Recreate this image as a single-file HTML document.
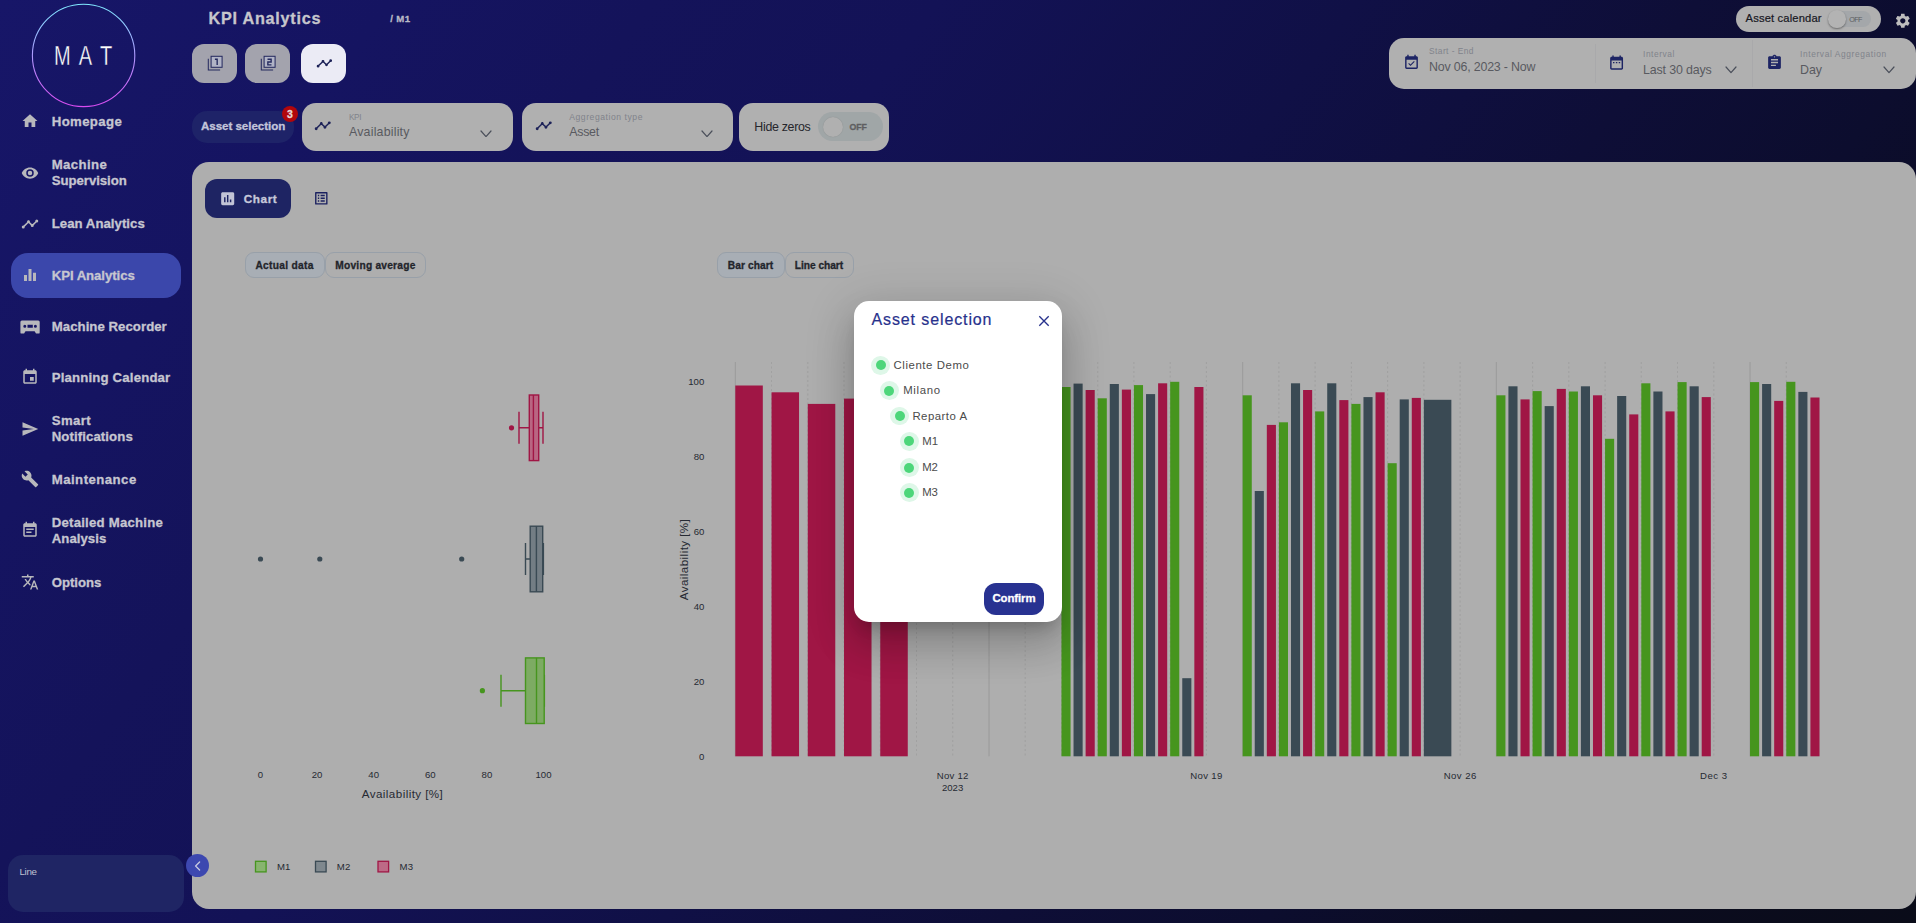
<!DOCTYPE html>
<html lang="en"><head><meta charset="utf-8"><title>KPI Analytics</title>
<style>
html,body{margin:0;padding:0}
body{width:1920px;height:923px;overflow:hidden;position:relative;background:#fff;font-family:"Liberation Sans",sans-serif}
#bg{position:absolute;left:0;top:0;width:1916px;height:923px;background:linear-gradient(127deg,rgb(23,22,104) 0%,rgb(21,20,97) 15%,rgb(20,19,90) 25%,rgb(19,18,86) 36%,rgb(16,16,70) 52%,rgb(14,14,55) 65%,rgb(12,13,46) 75%,rgb(11,12,33) 85%,rgb(10,12,25) 100%)}
.a{position:absolute;display:block}
.t{position:absolute;white-space:nowrap;font-family:"Liberation Sans",sans-serif}
.b{-webkit-text-stroke:.3px currentColor}
.med{-webkit-text-stroke:.2px currentColor}
.logo{-webkit-text-stroke:.35px #161565}
</style></head><body>
<div id="bg"></div>
<!-- sidebar -->
<svg class="a" style="left:28px;top:0px" width="112" height="112" viewBox="0 0 112 112"><defs><linearGradient id="lg" x1="0" y1="0" x2="0" y2="1"><stop offset="0" stop-color="#7fe9ff"/><stop offset="0.45" stop-color="#a9a2ff"/><stop offset="1" stop-color="#d94bf0"/></linearGradient></defs><circle cx="55.6" cy="55.4" r="51.2" fill="none" stroke="url(#lg)" stroke-width="1.1"/></svg>
<span class="t logo" style="font-size:27px;line-height:35px;color:#ffffff;top:39.31px;letter-spacing:2.462px;left:83.40px;transform:translateX(-50%) scaleX(0.74);margin-left:0.91px;">M A T</span>
<div class="a" style="left:11.00px;top:253.00px;width:169.75px;height:44.75px;background:#3b47ab;border-radius:17px;"></div>
<svg class="a" style="left:21.00px;top:112.00px" width="18" height="18" viewBox="0 0 24 24"><path fill="#b8b8bc" d="M10,20V14H14V20H19V12H22L12,3L2,12H5V20H10Z"/></svg>
<span class="t b" style="font-size:13.2px;line-height:17px;color:#c6c6d0;top:112.65px;font-weight:700;letter-spacing:0.368px;left:51.75px;">Homepage</span>
<svg class="a" style="left:20.60px;top:164.00px" width="18" height="18" viewBox="0 0 24 24"><path fill="#b8b8bc" d="M12,9A3,3 0 0,0 9,12A3,3 0 0,0 12,15A3,3 0 0,0 15,12A3,3 0 0,0 12,9M12,17A5,5 0 0,1 7,12A5,5 0 0,1 12,7A5,5 0 0,1 17,12A5,5 0 0,1 12,17M12,4.5C7,4.5 2.73,7.61 1,12C2.73,16.39 7,19.5 12,19.5C17,19.5 21.27,16.39 23,12C21.27,7.61 17,4.5 12,4.5Z"/></svg>
<span class="t b" style="font-size:13.2px;line-height:17px;color:#c6c6d0;top:156.15px;font-weight:700;letter-spacing:0.372px;left:51.75px;">Machine</span>
<span class="t b" style="font-size:13.2px;line-height:17px;color:#c6c6d0;top:172.15px;font-weight:700;letter-spacing:-0.048px;left:51.75px;">Supervision</span>
<svg class="a" style="left:21.30px;top:214.50px" width="18" height="18" viewBox="0 0 24 24"><path fill="#b8b8bc" d="M3,14L3.5,14.07L8.07,9.5C7.89,8.85 8.06,8.11 8.59,7.59C9.37,6.8 10.63,6.8 11.41,7.59C11.94,8.11 12.11,8.85 11.93,9.5L14.5,12.07L15,12C15.18,12 15.35,12 15.5,12.07L19.07,8.5C19,8.35 19,8.18 19,8A2,2 0 0,1 21,6A2,2 0 0,1 23,8A2,2 0 0,1 21,10C20.82,10 20.65,10 20.5,9.93L16.93,13.5C17,13.65 17,13.82 17,14A2,2 0 0,1 15,16A2,2 0 0,1 13,14L13.07,13.5L10.5,10.93C10.18,11 9.82,11 9.5,10.93L4.93,15.5L5,16A2,2 0 0,1 3,18A2,2 0 0,1 1,16A2,2 0 0,1 3,14Z"/></svg>
<span class="t b" style="font-size:13.2px;line-height:17px;color:#c6c6d0;top:215.15px;font-weight:700;letter-spacing:0.031px;left:51.75px;">Lean Analytics</span>
<svg class="a" style="left:21.00px;top:265.50px" width="18" height="18" viewBox="0 0 24 24"><path fill="#b8b8bc" d="M10 20h4V4h-4v16zm-6 0h4v-8H4v8zM16 9v11h4V9h-4z"/></svg>
<span class="t b" style="font-size:13.2px;line-height:17px;color:#c6c6d0;top:267.15px;font-weight:700;letter-spacing:-0.066px;left:51.75px;">KPI Analytics</span>
<svg class="a" style="left:19.5px;top:319.5px" width="20" height="14" viewBox="0 0 20 14"><path fill="#b8b8bc" fill-rule="evenodd" d="M1.9 .4H18.2a1.5 1.5 0 0 1 1.5 1.5V12.4a1.2 1.2 0 0 1-1.2 1.2H16L14.6 11.3H5.5L4.1 13.6H1.6a1.2 1.2 0 0 1-1.2-1.2V1.9A1.5 1.5 0 0 1 1.9 .4ZM4.8 4.8a1.5 1.5 0 1 0 0 3a1.5 1.5 0 1 0 0-3ZM7.5 4.8h5.3v3H7.5ZM15.4 4.8a1.5 1.5 0 1 0 0 3a1.5 1.5 0 1 0 0-3Z"/></svg>
<span class="t b" style="font-size:13.2px;line-height:17px;color:#c6c6d0;top:318.15px;font-weight:700;letter-spacing:0.044px;left:51.75px;">Machine Recorder</span>
<svg class="a" style="left:21.00px;top:367.50px" width="18" height="18" viewBox="0 0 24 24"><path fill="#b8b8bc" d="M17 12h-5v5h5v-5zM16 1v2H8V1H6v2H5c-1.11 0-1.99.9-1.99 2L3 19c0 1.1.89 2 2 2h14c1.1 0 2-.9 2-2V5c0-1.1-.9-2-2-2h-1V1h-2zm3 18H5V8h14v11z"/></svg>
<span class="t b" style="font-size:13.2px;line-height:17px;color:#c6c6d0;top:369.15px;font-weight:700;letter-spacing:0.170px;left:51.75px;">Planning Calendar</span>
<svg class="a" style="left:21.00px;top:419.50px" width="18" height="18" viewBox="0 0 24 24"><path fill="#b8b8bc" d="M2.01 21L23 12 2.01 3 2 10l15 2-15 2z"/></svg>
<span class="t b" style="font-size:13.2px;line-height:17px;color:#c6c6d0;top:412.15px;font-weight:700;letter-spacing:0.402px;left:51.75px;">Smart</span>
<span class="t b" style="font-size:13.2px;line-height:17px;color:#c6c6d0;top:427.85px;font-weight:700;letter-spacing:0.095px;left:51.75px;">Notifications</span>
<svg class="a" style="left:21.00px;top:470.00px" width="18" height="18" viewBox="0 0 24 24"><path fill="#b8b8bc" d="M22.7 19l-9.1-9.1c.9-2.3.4-5-1.5-6.9-2-2-5-2.4-7.4-1.3L9 6 6 9 1.6 4.7C.4 7.1.9 10.1 2.9 12.1c1.9 1.9 4.6 2.4 6.9 1.5l9.1 9.1c.4.4 1 .4 1.4 0l2.3-2.3c.5-.4.5-1.1.1-1.4z"/></svg>
<span class="t b" style="font-size:13.2px;line-height:17px;color:#c6c6d0;top:471.15px;font-weight:700;letter-spacing:0.461px;left:51.75px;">Maintenance</span>
<svg class="a" style="left:21.00px;top:521.00px" width="18" height="18" viewBox="0 0 24 24"><path fill="#b8b8bc" d="M17 10H7v2h10v-2zm2-7h-1V1h-2v2H8V1H6v2H5c-1.11 0-1.99.9-1.99 2L3 19c0 1.1.89 2 2 2h14c1.1 0 2-.9 2-2V5c0-1.1-.9-2-2-2zm0 16H5V8h14v11zm-5-5H7v2h7v-2z"/></svg>
<span class="t b" style="font-size:13.2px;line-height:17px;color:#c6c6d0;top:514.35px;font-weight:700;letter-spacing:0.218px;left:51.75px;">Detailed Machine</span>
<span class="t b" style="font-size:13.2px;line-height:17px;color:#c6c6d0;top:529.95px;font-weight:700;letter-spacing:0.036px;left:51.75px;">Analysis</span>
<svg class="a" style="left:21.00px;top:573.00px" width="18" height="18" viewBox="0 0 24 24"><path fill="#b8b8bc" d="M12.87 15.07l-2.54-2.51.03-.03c1.74-1.94 2.98-4.17 3.71-6.53H17V4h-7V2H8v2H1v1.99h11.17C11.5 7.92 10.44 9.75 9 11.35 8.07 10.32 7.3 9.19 6.69 8h-2c.73 1.63 1.73 3.17 2.98 4.56l-5.09 5.02L4 19l5-5 3.11 3.11.76-2.04zM18.5 10h-2L12 22h2l1.12-3h4.75L21 22h2l-4.5-12zm-2.62 7l1.62-4.33L19.12 17h-3.24z"/></svg>
<span class="t b" style="font-size:13.2px;line-height:17px;color:#c6c6d0;top:574.15px;font-weight:700;letter-spacing:-0.055px;left:51.75px;">Options</span>
<div class="a" style="left:8.00px;top:855.00px;width:176.00px;height:56.75px;background:#1f2564;border-radius:15px;"></div>
<span class="t" style="font-size:9.8px;line-height:13px;color:#bfc0d2;top:865.41px;letter-spacing:-0.344px;left:19.50px;">Line</span>
<!-- top bar -->
<span class="t b" style="font-size:16.2px;line-height:21px;color:#c6c6cc;top:7.89px;font-weight:700;letter-spacing:0.762px;left:208.50px;">KPI Analytics</span>
<span class="t b" style="font-size:9.6px;line-height:12px;color:#b9b9c6;top:13.41px;font-weight:700;letter-spacing:0.343px;left:390.30px;">/ M1</span>
<div class="a" style="left:192.00px;top:44.00px;width:45.20px;height:39.20px;background:#a3a3ad;border-radius:12px;"></div>
<div class="a" style="left:245.00px;top:44.00px;width:45.20px;height:39.20px;background:#a3a3ad;border-radius:12px;"></div>
<div class="a" style="left:301.00px;top:44.00px;width:45.20px;height:39.20px;background:#ebebf5;border-radius:12px;"></div>
<svg class="a" style="left:206.60px;top:55.20px" width="16.4" height="16.4" viewBox="0 0 24 24" fill="none" stroke="#252a5f" stroke-width="1.5"><path d="M1.9 5.4V22.1H19.2"/><rect x="6" y="1.9" width="16.1" height="16.1" fill="#b1b4c6"/><path d="M11.6 6.3H14.9V14.8" stroke-width="2"/></svg>
<svg class="a" style="left:259.60px;top:55.20px" width="16.4" height="16.4" viewBox="0 0 24 24" fill="none" stroke="#252a5f" stroke-width="1.5"><path d="M1.9 5.4V22.1H19.2"/><rect x="6" y="1.9" width="16.1" height="16.1" fill="#b1b4c6"/><path d="M11 6.3H16.3V10.3H11.5V14.4H16.8" stroke-width="2"/></svg>
<svg class="a" style="left:315.60px;top:55.00px" width="16.8" height="16.8" viewBox="0 0 24 24"><path fill="#1d2258" d="M3,14L3.5,14.07L8.07,9.5C7.89,8.85 8.06,8.11 8.59,7.59C9.37,6.8 10.63,6.8 11.41,7.59C11.94,8.11 12.11,8.85 11.93,9.5L14.5,12.07L15,12C15.18,12 15.35,12 15.5,12.07L19.07,8.5C19,8.35 19,8.18 19,8A2,2 0 0,1 21,6A2,2 0 0,1 23,8A2,2 0 0,1 21,10C20.82,10 20.65,10 20.5,9.93L16.93,13.5C17,13.65 17,13.82 17,14A2,2 0 0,1 15,16A2,2 0 0,1 13,14L13.07,13.5L10.5,10.93C10.18,11 9.82,11 9.5,10.93L4.93,15.5L5,16A2,2 0 0,1 3,18A2,2 0 0,1 1,16A2,2 0 0,1 3,14Z"/></svg>
<div class="a" style="left:192.00px;top:111.00px;width:102.00px;height:32.00px;background:#1e2368;border-radius:15px;"></div>
<span class="t b" style="font-size:11.6px;line-height:15px;color:#c2c5da;top:118.03px;font-weight:700;letter-spacing:-0.054px;left:201.00px;">Asset selection</span>
<div class="a" style="left:281.8px;top:105.8px;width:16.4px;height:16.4px;border-radius:50%;background:#b1060b"></div>
<span class="t b" style="font-size:10.5px;line-height:14px;color:#e6d6d6;top:107.32px;font-weight:700;left:290.00px;transform:translateX(-50%);">3</span>
<div class="a" style="left:301.60px;top:102.80px;width:211.40px;height:48.20px;background:#b0b0b0;border-radius:14px;"></div>
<svg class="a" style="left:314.45px;top:116.85px" width="17.5" height="17.5" viewBox="0 0 24 24"><path fill="#1d2258" d="M3,14L3.5,14.07L8.07,9.5C7.89,8.85 8.06,8.11 8.59,7.59C9.37,6.8 10.63,6.8 11.41,7.59C11.94,8.11 12.11,8.85 11.93,9.5L14.5,12.07L15,12C15.18,12 15.35,12 15.5,12.07L19.07,8.5C19,8.35 19,8.18 19,8A2,2 0 0,1 21,6A2,2 0 0,1 23,8A2,2 0 0,1 21,10C20.82,10 20.65,10 20.5,9.93L16.93,13.5C17,13.65 17,13.82 17,14A2,2 0 0,1 15,16A2,2 0 0,1 13,14L13.07,13.5L10.5,10.93C10.18,11 9.82,11 9.5,10.93L4.93,15.5L5,16A2,2 0 0,1 3,18A2,2 0 0,1 1,16A2,2 0 0,1 3,14Z"/></svg>
<span class="t" style="font-size:8.2px;line-height:11px;color:#80838b;top:111.89px;letter-spacing:-0.352px;left:349.00px;">KPI</span>
<span class="t" style="font-size:12.4px;line-height:16px;color:#595a60;top:124.34px;letter-spacing:0.190px;left:349.00px;">Availability</span>
<svg class="a" style="left:480.00px;top:129.60px" width="12" height="7.6" viewBox="-1 -1 12 7.6"><polyline points="0,0 5.0,5.6 10,0" fill="none" stroke="#4a4f5a" stroke-width="1.2" stroke-linecap="round" stroke-linejoin="round"/></svg>
<div class="a" style="left:521.80px;top:102.80px;width:210.80px;height:48.20px;background:#b0b0b0;border-radius:14px;"></div>
<svg class="a" style="left:534.65px;top:116.85px" width="17.5" height="17.5" viewBox="0 0 24 24"><path fill="#1d2258" d="M3,14L3.5,14.07L8.07,9.5C7.89,8.85 8.06,8.11 8.59,7.59C9.37,6.8 10.63,6.8 11.41,7.59C11.94,8.11 12.11,8.85 11.93,9.5L14.5,12.07L15,12C15.18,12 15.35,12 15.5,12.07L19.07,8.5C19,8.35 19,8.18 19,8A2,2 0 0,1 21,6A2,2 0 0,1 23,8A2,2 0 0,1 21,10C20.82,10 20.65,10 20.5,9.93L16.93,13.5C17,13.65 17,13.82 17,14A2,2 0 0,1 15,16A2,2 0 0,1 13,14L13.07,13.5L10.5,10.93C10.18,11 9.82,11 9.5,10.93L4.93,15.5L5,16A2,2 0 0,1 3,18A2,2 0 0,1 1,16A2,2 0 0,1 3,14Z"/></svg>
<span class="t" style="font-size:8.6px;line-height:11px;color:#80838b;top:111.50px;letter-spacing:0.554px;left:569.20px;">Aggregation type</span>
<span class="t" style="font-size:12.4px;line-height:16px;color:#595a60;top:124.34px;letter-spacing:-0.250px;left:569.20px;">Asset</span>
<svg class="a" style="left:701.00px;top:129.60px" width="12" height="7.6" viewBox="-1 -1 12 7.6"><polyline points="0,0 5.0,5.6 10,0" fill="none" stroke="#4a4f5a" stroke-width="1.2" stroke-linecap="round" stroke-linejoin="round"/></svg>
<div class="a" style="left:738.80px;top:102.80px;width:149.80px;height:48.20px;background:#b0b0b0;border-radius:14px;"></div>
<span class="t" style="font-size:12.4px;line-height:16px;color:#26262c;top:119.34px;letter-spacing:-0.304px;left:754.30px;">Hide zeros</span>
<div class="a" style="left:817.50px;top:112.00px;width:65.10px;height:28.80px;background:#a0a6a7;border-radius:14.4px;"></div>
<div class="a" style="left:822.5px;top:116.7px;width:20px;height:20px;border-radius:50%;background:#b0b0b0;box-shadow:0 0 1px rgba(0,0,0,.2)"></div>
<span class="t b" style="font-size:8.8px;line-height:11px;color:#5e5e60;top:121.60px;font-weight:700;letter-spacing:-0.147px;left:849.60px;">OFF</span>
<div class="a" style="left:1735.70px;top:6.20px;width:145.50px;height:25.70px;background:#b0b0b0;border-radius:13px;"></div>
<span class="t med" style="font-size:11.2px;line-height:15px;color:#17171f;top:11.43px;letter-spacing:0.153px;left:1745.60px;">Asset calendar</span>
<div class="a" style="left:1828.00px;top:10.80px;width:42.80px;height:16.60px;background:#a4a7aa;border-radius:8.4px;"></div>
<div class="a" style="left:1828.4px;top:10.4px;width:17.4px;height:17.4px;border-radius:50%;background:#b3b3b3;box-shadow:0 1px 2px rgba(0,0,0,.4)"></div>
<span class="t" style="font-size:7.2px;line-height:9px;color:#5c5c62;top:14.58px;letter-spacing:-0.588px;left:1849.20px;">OFF</span>
<svg class="a" style="left:1894.30px;top:11.60px" width="17.6" height="17.6" viewBox="0 0 24 24"><path fill="#bdbdbd" d="M19.14,12.94c0.04-0.3,0.06-0.61,0.06-0.94c0-0.32-0.02-0.64-0.07-0.94l2.03-1.58c0.18-0.14,0.23-0.41,0.12-0.61 l-1.92-3.32c-0.12-0.22-0.37-0.29-0.59-0.22l-2.39,0.96c-0.5-0.38-1.03-0.7-1.62-0.94L14.4,2.81c-0.04-0.24-0.24-0.41-0.48-0.41 h-3.84c-0.24,0-0.43,0.17-0.47,0.41L9.25,5.35C8.66,5.59,8.12,5.92,7.63,6.29L5.24,5.33c-0.22-0.08-0.47,0-0.59,0.22L2.74,8.87 C2.62,9.08,2.66,9.34,2.86,9.48l2.03,1.58C4.84,11.36,4.8,11.69,4.8,12s0.02,0.64,0.07,0.94l-2.03,1.58 c-0.18,0.14-0.23,0.41-0.12,0.61l1.92,3.32c0.12,0.22,0.37,0.29,0.59,0.22l2.39-0.96c0.5,0.38,1.03,0.7,1.62,0.94l0.36,2.54 c0.05,0.24,0.24,0.41,0.48,0.41h3.84c0.24,0,0.44-0.17,0.47-0.41l0.36-2.54c0.59-0.24,1.13-0.56,1.62-0.94l2.39,0.96 c0.22,0.08,0.47,0,0.59-0.22l1.92-3.32c0.12-0.22,0.07-0.47-0.12-0.61L19.14,12.94z M12,15.6c-1.98,0-3.6-1.62-3.6-3.6 s1.62-3.6,3.6-3.6s3.6,1.62,3.6,3.6S13.98,15.6,12,15.6z"/></svg>
<div class="a" style="left:1389.00px;top:38.00px;width:526.80px;height:51.00px;background:#b0b0b0;border-radius:15px;"></div>
<div class="a" style="left:1595.40px;top:44.00px;width:0.80px;height:39.00px;background:#a9a9ab;border-radius:0px;"></div>
<div class="a" style="left:1751.80px;top:40.00px;width:0.80px;height:47.00px;background:#a9a9ab;border-radius:0px;"></div>
<svg class="a" style="left:1403.00px;top:54.00px" width="17" height="17" viewBox="0 0 24 24"><path fill="#1d2464" d="M16.53 11.06L15.47 10l-4.88 4.88-2.12-2.12-1.06 1.06L10.59 17l5.94-5.94zM19 3h-1V1h-2v2H8V1H6v2H5c-1.11 0-1.99.9-1.99 2L3 19c0 1.1.89 2 2 2h14c1.1 0 2-.9 2-2V5c0-1.1-.9-2-2-2zm0 16H5V8h14v11z"/></svg>
<span class="t" style="font-size:8.4px;line-height:11px;color:#80838b;top:46.20px;letter-spacing:0.437px;left:1429.00px;">Start - End</span>
<span class="t" style="font-size:12.4px;line-height:16px;color:#595a60;top:59.24px;letter-spacing:-0.177px;left:1429.00px;">Nov 06, 2023 - Now</span>
<svg class="a" style="left:1608.30px;top:53.70px" width="17.2" height="17.2" viewBox="0 0 24 24"><path fill="#1d2464" d="M9 11H7v2h2v-2zm4 0h-2v2h2v-2zm4 0h-2v2h2v-2zm2-7h-1V2h-2v2H8V2H6v2H5c-1.11 0-1.99.9-1.99 2L3 20c0 1.1.89 2 2 2h14c1.1 0 2-.9 2-2V6c0-1.1-.9-2-2-2zm0 16H5V9h14v11z"/></svg>
<span class="t" style="font-size:8.4px;line-height:11px;color:#80838b;top:48.80px;letter-spacing:0.562px;left:1643.00px;">Interval</span>
<span class="t" style="font-size:12.4px;line-height:16px;color:#595a60;top:61.54px;letter-spacing:-0.133px;left:1643.00px;">Last 30 days</span>
<svg class="a" style="left:1725.20px;top:66.00px" width="12" height="7.6" viewBox="-1 -1 12 7.6"><polyline points="0,0 5.0,5.6 10,0" fill="none" stroke="#4a4f5a" stroke-width="1.2" stroke-linecap="round" stroke-linejoin="round"/></svg>
<svg class="a" style="left:1765.50px;top:53.70px" width="17" height="17" viewBox="0 0 24 24"><path fill="#1d2464" d="M19 3h-4.18C14.4 1.84 13.3 1 12 1c-1.3 0-2.4.84-2.82 2H5c-1.1 0-2 .9-2 2v14c0 1.1.9 2 2 2h14c1.1 0 2-.9 2-2V5c0-1.1-.9-2-2-2zm-7 0c.55 0 1 .45 1 1s-.45 1-1 1-1-.45-1-1 .45-1 1-1zm2 14H7v-2h7v2zm3-4H7v-2h10v2zm0-4H7V7h10v2z"/></svg>
<span class="t" style="font-size:8.4px;line-height:11px;color:#80838b;top:48.80px;letter-spacing:0.616px;left:1800.00px;">Interval Aggregation</span>
<span class="t" style="font-size:12.4px;line-height:16px;color:#595a60;top:61.54px;letter-spacing:-0.023px;left:1800.00px;">Day</span>
<svg class="a" style="left:1882.70px;top:66.00px" width="12" height="7.6" viewBox="-1 -1 12 7.6"><polyline points="0,0 5.0,5.6 10,0" fill="none" stroke="#4a4f5a" stroke-width="1.2" stroke-linecap="round" stroke-linejoin="round"/></svg>
<!-- panel -->
<div class="a" style="left:192.00px;top:162.00px;width:1724.00px;height:747.00px;background:#aeaeae;border-radius:17px;"></div>
<div class="a" style="left:205.00px;top:179.00px;width:85.60px;height:38.60px;background:#1e2463;border-radius:12px;"></div>
<svg class="a" style="left:218.60px;top:189.80px" width="17.4" height="17.4" viewBox="0 0 24 24"><path fill="#c2c4d6" d="M19 3H5c-1.1 0-2 .9-2 2v14c0 1.1.9 2 2 2h14c1.1 0 2-.9 2-2V5c0-1.1-.9-2-2-2zM9 17H7v-7h2v7zm4 0h-2V7h2v10zm4 0h-2v-4h2v4z"/></svg>
<span class="t b" style="font-size:11.8px;line-height:15px;color:#c6c8da;top:192.24px;font-weight:700;letter-spacing:0.547px;left:243.80px;">Chart</span>
<svg class="a" style="left:313.40px;top:189.50px" width="16.6" height="16.6" viewBox="0 0 24 24"><path fill="#1b2160" d="M19 5v14H5V5h14m1.1-2H3.9c-.5 0-.9.4-.9.9v16.2c0 .4.4.9.9.9h16.2c.4 0 .9-.5.9-.9V3.9c0-.5-.5-.9-.9-.9zM11 7h6v2h-6V7zm0 4h6v2h-6v-2zm0 4h6v2h-6zM7 7h2v2H7zm0 4h2v2H7zm0 4h2v2H7z"/></svg>
<div class="a" style="left:245px;top:252.2px;width:78.39999999999998px;height:24.3px;border:1px solid #98a0a9;border-radius:9px;background:#a8aeb5"></div>
<span class="t b" style="font-size:10.2px;line-height:13px;color:#23252b;top:258.82px;font-weight:700;letter-spacing:0.308px;left:255.40px;">Actual data</span>
<div class="a" style="left:325px;top:252.2px;width:99.19999999999999px;height:24.3px;border:1px solid #98a0a9;border-radius:9px;background:transparent"></div>
<span class="t b" style="font-size:10.2px;line-height:13px;color:#23252b;top:258.82px;font-weight:700;letter-spacing:0.231px;left:335.30px;">Moving average</span>
<div class="a" style="left:717px;top:252.2px;width:65.60000000000002px;height:24.3px;border:1px solid #98a0a9;border-radius:9px;background:#a8aeb5"></div>
<span class="t b" style="font-size:10.2px;line-height:13px;color:#23252b;top:258.82px;font-weight:700;letter-spacing:0.083px;left:727.80px;">Bar chart</span>
<div class="a" style="left:784.7px;top:252.2px;width:67.29999999999995px;height:24.3px;border:1px solid #98a0a9;border-radius:9px;background:transparent"></div>
<span class="t b" style="font-size:10.2px;line-height:13px;color:#23252b;top:258.82px;font-weight:700;letter-spacing:-0.032px;left:794.80px;">Line chart</span>
<svg class="a" style="left:0;top:0" width="1916" height="923" viewBox="0 0 1916 923">
<path d="M519.0 411.8V443.8M519.0 427.8H529.3M538.7 427.8H543.0M543.0 411.8V443.8" stroke="#a01645" stroke-width="1.4" fill="none"/><rect x="529.3" y="395.0" width="9.4" height="65.6" fill="#b96582" stroke="#a01645" stroke-width="1.4"/><path d="M533.4 395.0V460.6" stroke="#a01645" stroke-width="1.4"/><circle cx="511.5" cy="427.8" r="2.6" fill="#a01645"/>
<path d="M525.5 543.0V575.0M525.5 559H530.2M542.7 559H543.4M543.4 543.0V575.0" stroke="#3a4a54" stroke-width="1.4" fill="none"/><rect x="530.2" y="526.2" width="12.5" height="65.6" fill="#737d84" stroke="#3a4a54" stroke-width="1.4"/><path d="M536.4 526.2V591.8" stroke="#3a4a54" stroke-width="1.4"/><circle cx="260.5" cy="559" r="2.6" fill="#3a4a54"/><circle cx="319.8" cy="559" r="2.6" fill="#3a4a54"/><circle cx="461.7" cy="559" r="2.6" fill="#3a4a54"/>
<path d="M501.0 674.7V706.7M501.0 690.7H525.5M544.2 690.7H544.4M544.4 674.7V706.7" stroke="#46951e" stroke-width="1.4" fill="none"/><rect x="525.5" y="657.9" width="18.7" height="65.6" fill="#7dab63" stroke="#46951e" stroke-width="1.4"/><path d="M536.5 657.9V723.5" stroke="#46951e" stroke-width="1.4"/><circle cx="482.4" cy="690.7" r="2.6" fill="#46951e"/>
<rect x="255.5" y="861.3" width="10.6" height="10.6" fill="#88b46f" stroke="#46951e" stroke-width="1.3"/>
<rect x="315.5" y="861.3" width="10.6" height="10.6" fill="#7f888e" stroke="#3a4a54" stroke-width="1.3"/>
<rect x="378" y="861.3" width="10.6" height="10.6" fill="#bd6a86" stroke="#a01645" stroke-width="1.3"/>
<path d="M735.3 362V756.3" stroke="#969696" stroke-width="0.8"/>
<path d="M771.5 362V756.3" stroke="#9b9b9b" stroke-width="0.7" stroke-dasharray="2 2.5"/>
<path d="M807.8 362V756.3" stroke="#9b9b9b" stroke-width="0.7" stroke-dasharray="2 2.5"/>
<path d="M844.0 362V756.3" stroke="#9b9b9b" stroke-width="0.7" stroke-dasharray="2 2.5"/>
<path d="M880.3 362V756.3" stroke="#9b9b9b" stroke-width="0.7" stroke-dasharray="2 2.5"/>
<path d="M916.5 362V756.3" stroke="#9b9b9b" stroke-width="0.7" stroke-dasharray="2 2.5"/>
<path d="M952.7 362V756.3" stroke="#9b9b9b" stroke-width="0.7" stroke-dasharray="2 2.5"/>
<path d="M989.0 362V756.3" stroke="#969696" stroke-width="0.8"/>
<path d="M1025.2 362V756.3" stroke="#9b9b9b" stroke-width="0.7" stroke-dasharray="2 2.5"/>
<path d="M1061.5 362V756.3" stroke="#9b9b9b" stroke-width="0.7" stroke-dasharray="2 2.5"/>
<path d="M1097.7 362V756.3" stroke="#9b9b9b" stroke-width="0.7" stroke-dasharray="2 2.5"/>
<path d="M1133.9 362V756.3" stroke="#9b9b9b" stroke-width="0.7" stroke-dasharray="2 2.5"/>
<path d="M1170.2 362V756.3" stroke="#9b9b9b" stroke-width="0.7" stroke-dasharray="2 2.5"/>
<path d="M1206.4 362V756.3" stroke="#9b9b9b" stroke-width="0.7" stroke-dasharray="2 2.5"/>
<path d="M1242.7 362V756.3" stroke="#969696" stroke-width="0.8"/>
<path d="M1278.9 362V756.3" stroke="#9b9b9b" stroke-width="0.7" stroke-dasharray="2 2.5"/>
<path d="M1315.1 362V756.3" stroke="#9b9b9b" stroke-width="0.7" stroke-dasharray="2 2.5"/>
<path d="M1351.4 362V756.3" stroke="#9b9b9b" stroke-width="0.7" stroke-dasharray="2 2.5"/>
<path d="M1387.6 362V756.3" stroke="#9b9b9b" stroke-width="0.7" stroke-dasharray="2 2.5"/>
<path d="M1423.9 362V756.3" stroke="#9b9b9b" stroke-width="0.7" stroke-dasharray="2 2.5"/>
<path d="M1460.1 362V756.3" stroke="#9b9b9b" stroke-width="0.7" stroke-dasharray="2 2.5"/>
<path d="M1496.3 362V756.3" stroke="#969696" stroke-width="0.8"/>
<path d="M1532.6 362V756.3" stroke="#9b9b9b" stroke-width="0.7" stroke-dasharray="2 2.5"/>
<path d="M1568.8 362V756.3" stroke="#9b9b9b" stroke-width="0.7" stroke-dasharray="2 2.5"/>
<path d="M1605.1 362V756.3" stroke="#9b9b9b" stroke-width="0.7" stroke-dasharray="2 2.5"/>
<path d="M1641.3 362V756.3" stroke="#9b9b9b" stroke-width="0.7" stroke-dasharray="2 2.5"/>
<path d="M1677.5 362V756.3" stroke="#9b9b9b" stroke-width="0.7" stroke-dasharray="2 2.5"/>
<path d="M1713.8 362V756.3" stroke="#9b9b9b" stroke-width="0.7" stroke-dasharray="2 2.5"/>
<path d="M1750.0 362V756.3" stroke="#969696" stroke-width="0.8"/>
<path d="M1786.3 362V756.3" stroke="#9b9b9b" stroke-width="0.7" stroke-dasharray="2 2.5"/>
<rect x="735.30" y="385.5" width="27.5" height="370.8" fill="#a01645"/>
<rect x="771.54" y="392.3" width="27.5" height="364.0" fill="#a01645"/>
<rect x="807.78" y="403.9" width="27.5" height="352.4" fill="#a01645"/>
<rect x="844.02" y="398.6" width="27.5" height="357.7" fill="#a01645"/>
<rect x="880.26" y="399.8" width="27.5" height="356.5" fill="#a01645"/>
<rect x="1061.46" y="387.0" width="9.1" height="369.3" fill="#46951e"/>
<rect x="1073.54" y="383.6" width="9.1" height="372.7" fill="#3a4a54"/>
<rect x="1085.62" y="390.0" width="9.1" height="366.3" fill="#a01645"/>
<rect x="1097.70" y="398.3" width="9.1" height="358.0" fill="#46951e"/>
<rect x="1109.78" y="384.0" width="9.1" height="372.3" fill="#3a4a54"/>
<rect x="1121.86" y="389.6" width="9.1" height="366.7" fill="#a01645"/>
<rect x="1133.94" y="385.1" width="9.1" height="371.2" fill="#46951e"/>
<rect x="1146.02" y="394.1" width="9.1" height="362.2" fill="#3a4a54"/>
<rect x="1158.10" y="383.3" width="9.1" height="373.0" fill="#a01645"/>
<rect x="1170.18" y="381.8" width="9.1" height="374.5" fill="#46951e"/>
<rect x="1182.26" y="678.2" width="9.1" height="78.1" fill="#3a4a54"/>
<rect x="1194.34" y="387.0" width="9.1" height="369.3" fill="#a01645"/>
<rect x="1242.66" y="395.3" width="9.1" height="361.0" fill="#46951e"/>
<rect x="1254.74" y="491.0" width="9.1" height="265.3" fill="#3a4a54"/>
<rect x="1266.82" y="424.9" width="9.1" height="331.4" fill="#a01645"/>
<rect x="1278.90" y="422.3" width="9.1" height="334.0" fill="#46951e"/>
<rect x="1290.98" y="383.3" width="9.1" height="373.0" fill="#3a4a54"/>
<rect x="1303.06" y="390.0" width="9.1" height="366.3" fill="#a01645"/>
<rect x="1315.14" y="411.4" width="9.1" height="344.9" fill="#46951e"/>
<rect x="1327.22" y="383.3" width="9.1" height="373.0" fill="#3a4a54"/>
<rect x="1339.30" y="400.1" width="9.1" height="356.2" fill="#a01645"/>
<rect x="1351.38" y="403.9" width="9.1" height="352.4" fill="#46951e"/>
<rect x="1363.46" y="397.1" width="9.1" height="359.2" fill="#3a4a54"/>
<rect x="1375.54" y="392.3" width="9.1" height="364.0" fill="#a01645"/>
<rect x="1387.62" y="463.2" width="9.1" height="293.1" fill="#46951e"/>
<rect x="1399.70" y="399.4" width="9.1" height="356.9" fill="#3a4a54"/>
<rect x="1411.78" y="397.9" width="9.1" height="358.4" fill="#a01645"/>
<rect x="1423.86" y="399.8" width="27.5" height="356.5" fill="#3a4a54"/>
<rect x="1496.34" y="395.3" width="9.1" height="361.0" fill="#46951e"/>
<rect x="1508.42" y="386.3" width="9.1" height="370.0" fill="#3a4a54"/>
<rect x="1520.50" y="399.4" width="9.1" height="356.9" fill="#a01645"/>
<rect x="1532.58" y="391.1" width="9.1" height="365.2" fill="#46951e"/>
<rect x="1544.66" y="406.1" width="9.1" height="350.2" fill="#3a4a54"/>
<rect x="1556.74" y="388.9" width="9.1" height="367.4" fill="#a01645"/>
<rect x="1568.82" y="391.5" width="9.1" height="364.8" fill="#46951e"/>
<rect x="1580.90" y="386.3" width="9.1" height="370.0" fill="#3a4a54"/>
<rect x="1592.98" y="395.3" width="9.1" height="361.0" fill="#a01645"/>
<rect x="1605.06" y="438.8" width="9.1" height="317.5" fill="#46951e"/>
<rect x="1617.14" y="396.0" width="9.1" height="360.3" fill="#3a4a54"/>
<rect x="1629.22" y="414.4" width="9.1" height="341.9" fill="#a01645"/>
<rect x="1641.30" y="383.3" width="9.1" height="373.0" fill="#46951e"/>
<rect x="1653.38" y="391.5" width="9.1" height="364.8" fill="#3a4a54"/>
<rect x="1665.46" y="411.4" width="9.1" height="344.9" fill="#a01645"/>
<rect x="1677.54" y="382.1" width="9.1" height="374.2" fill="#46951e"/>
<rect x="1689.62" y="386.3" width="9.1" height="370.0" fill="#3a4a54"/>
<rect x="1701.70" y="397.1" width="9.1" height="359.2" fill="#a01645"/>
<rect x="1750.02" y="382.1" width="9.1" height="374.2" fill="#46951e"/>
<rect x="1762.10" y="384.0" width="9.1" height="372.3" fill="#3a4a54"/>
<rect x="1774.18" y="400.9" width="9.1" height="355.4" fill="#a01645"/>
<rect x="1786.26" y="381.8" width="9.1" height="374.5" fill="#46951e"/>
<rect x="1798.34" y="391.9" width="9.1" height="364.4" fill="#3a4a54"/>
<rect x="1810.42" y="397.5" width="9.1" height="358.8" fill="#a01645"/>
</svg>
<span class="t" style="font-size:9.6px;line-height:12px;color:#262a33;top:769.31px;left:260.50px;transform:translateX(-50%);">0</span>
<span class="t" style="font-size:9.6px;line-height:12px;color:#262a33;top:769.31px;left:317.10px;transform:translateX(-50%);">20</span>
<span class="t" style="font-size:9.6px;line-height:12px;color:#262a33;top:769.31px;left:373.70px;transform:translateX(-50%);">40</span>
<span class="t" style="font-size:9.6px;line-height:12px;color:#262a33;top:769.31px;left:430.30px;transform:translateX(-50%);">60</span>
<span class="t" style="font-size:9.6px;line-height:12px;color:#262a33;top:769.31px;left:486.90px;transform:translateX(-50%);">80</span>
<span class="t" style="font-size:9.6px;line-height:12px;color:#262a33;top:769.31px;left:543.50px;transform:translateX(-50%);">100</span>
<span class="t" style="font-size:11.6px;line-height:15px;color:#262a33;top:786.13px;letter-spacing:0.430px;left:402.30px;transform:translateX(-50%);margin-left:0.22px;">Availability [%]</span>
<span class="t" style="font-size:9.6px;line-height:12px;color:#262a33;top:860.81px;left:277.00px;">M1</span>
<span class="t" style="font-size:9.6px;line-height:12px;color:#262a33;top:860.81px;letter-spacing:0.172px;left:336.80px;">M2</span>
<span class="t" style="font-size:9.6px;line-height:12px;color:#262a33;top:860.81px;letter-spacing:0.172px;left:399.60px;">M3</span>
<span class="t" style="font-size:9.6px;line-height:12px;color:#262a33;top:751.01px;left:704.30px;transform:translateX(-100%);">0</span>
<span class="t" style="font-size:9.6px;line-height:12px;color:#262a33;top:675.95px;left:704.30px;transform:translateX(-100%);">20</span>
<span class="t" style="font-size:9.6px;line-height:12px;color:#262a33;top:600.89px;left:704.30px;transform:translateX(-100%);">40</span>
<span class="t" style="font-size:9.6px;line-height:12px;color:#262a33;top:525.83px;left:704.30px;transform:translateX(-100%);">60</span>
<span class="t" style="font-size:9.6px;line-height:12px;color:#262a33;top:450.77px;left:704.30px;transform:translateX(-100%);">80</span>
<span class="t" style="font-size:9.6px;line-height:12px;color:#262a33;top:375.71px;left:704.30px;transform:translateX(-100%);">100</span>
<span class="t" style="font-size:11.6px;line-height:15px;color:#262a33;top:551.63px;letter-spacing:0.430px;left:683.20px;margin-left:0.22px;transform:translate(-50%,0) rotate(-90deg);transform-origin:50% 50%;">Availability [%]</span>
<span class="t" style="font-size:9.6px;line-height:12px;color:#262a33;top:769.71px;letter-spacing:0.219px;left:952.60px;transform:translateX(-50%);margin-left:0.11px;">Nov 12</span>
<span class="t" style="font-size:9.6px;line-height:12px;color:#262a33;top:769.71px;letter-spacing:0.319px;left:1206.30px;transform:translateX(-50%);margin-left:0.16px;">Nov 19</span>
<span class="t" style="font-size:9.6px;line-height:12px;color:#262a33;top:769.71px;letter-spacing:0.419px;left:1460.00px;transform:translateX(-50%);margin-left:0.21px;">Nov 26</span>
<span class="t" style="font-size:9.6px;line-height:12px;color:#262a33;top:769.71px;letter-spacing:0.484px;left:1713.60px;transform:translateX(-50%);margin-left:0.24px;">Dec 3</span>
<span class="t" style="font-size:9.6px;line-height:12px;color:#262a33;top:781.71px;left:952.60px;transform:translateX(-50%);">2023</span>
<div class="a" style="left:186px;top:854px;width:23px;height:23px;border-radius:50%;background:#3d48b0"></div>
<svg class="a" style="left:192px;top:860px" width="12" height="12" viewBox="0 0 12 12"><polyline points="7.6,2 3.6,6 7.6,10" fill="none" stroke="#c9cbe0" stroke-width="1.3" stroke-linecap="round" stroke-linejoin="round"/></svg>
<!-- dialog -->
<div class="a" style="left:854px;top:301px;width:208px;height:321px;background:#fff;border-radius:15px;box-shadow:0 11px 15px -7px rgba(0,0,0,.2),0 24px 38px 3px rgba(0,0,0,.14),0 9px 46px 8px rgba(0,0,0,.12)"></div>
<span class="t med" style="font-size:16px;line-height:21px;color:#27318c;top:309.28px;letter-spacing:0.885px;left:871.50px;">Asset selection</span>
<svg class="a" style="left:1036.5px;top:314px" width="14" height="14" viewBox="0 0 14 14"><path d="M2.3 2.3L11.7 11.7M11.7 2.3L2.3 11.7" stroke="#27318c" stroke-width="1.35" fill="none"/></svg>
<div class="a" style="left:871.2px;top:355.9px;width:18.8px;height:18.8px;border-radius:50%;background:#def7e8"></div><div class="a" style="left:875.6px;top:360.3px;width:10px;height:10px;border-radius:50%;background:#4dd67a"></div>
<span class="t" style="font-size:11.4px;line-height:15px;color:#4b4b4b;top:357.83px;letter-spacing:0.580px;left:893.50px;">Cliente Demo</span>
<div class="a" style="left:880.0px;top:381.2px;width:18.8px;height:18.8px;border-radius:50%;background:#def7e8"></div><div class="a" style="left:884.4px;top:385.6px;width:10px;height:10px;border-radius:50%;background:#4dd67a"></div>
<span class="t" style="font-size:11.4px;line-height:15px;color:#4b4b4b;top:383.13px;letter-spacing:0.688px;left:903.20px;">Milano</span>
<div class="a" style="left:890.1px;top:406.6px;width:18.8px;height:18.8px;border-radius:50%;background:#def7e8"></div><div class="a" style="left:894.5px;top:411.0px;width:10px;height:10px;border-radius:50%;background:#4dd67a"></div>
<span class="t" style="font-size:11.4px;line-height:15px;color:#4b4b4b;top:408.53px;letter-spacing:0.491px;left:912.40px;">Reparto A</span>
<div class="a" style="left:900.0px;top:432.0px;width:18.8px;height:18.8px;border-radius:50%;background:#def7e8"></div><div class="a" style="left:904.4px;top:436.4px;width:10px;height:10px;border-radius:50%;background:#4dd67a"></div>
<span class="t" style="font-size:11.4px;line-height:15px;color:#4b4b4b;top:433.93px;left:922.30px;">M1</span>
<div class="a" style="left:900.0px;top:458.1px;width:18.8px;height:18.8px;border-radius:50%;background:#def7e8"></div><div class="a" style="left:904.4px;top:462.5px;width:10px;height:10px;border-radius:50%;background:#4dd67a"></div>
<span class="t" style="font-size:11.4px;line-height:15px;color:#4b4b4b;top:460.03px;letter-spacing:-0.328px;left:922.30px;">M2</span>
<div class="a" style="left:900.0px;top:483.1px;width:18.8px;height:18.8px;border-radius:50%;background:#def7e8"></div><div class="a" style="left:904.4px;top:487.5px;width:10px;height:10px;border-radius:50%;background:#4dd67a"></div>
<span class="t" style="font-size:11.4px;line-height:15px;color:#4b4b4b;top:485.03px;letter-spacing:-0.328px;left:922.30px;">M3</span>
<div class="a" style="left:984.00px;top:583.00px;width:60.00px;height:32.00px;background:#283291;border-radius:12px;"></div>
<span class="t b" style="font-size:11.4px;line-height:15px;color:#ffffff;top:591.03px;font-weight:700;letter-spacing:-0.079px;left:992.40px;">Confirm</span>
</body></html>
